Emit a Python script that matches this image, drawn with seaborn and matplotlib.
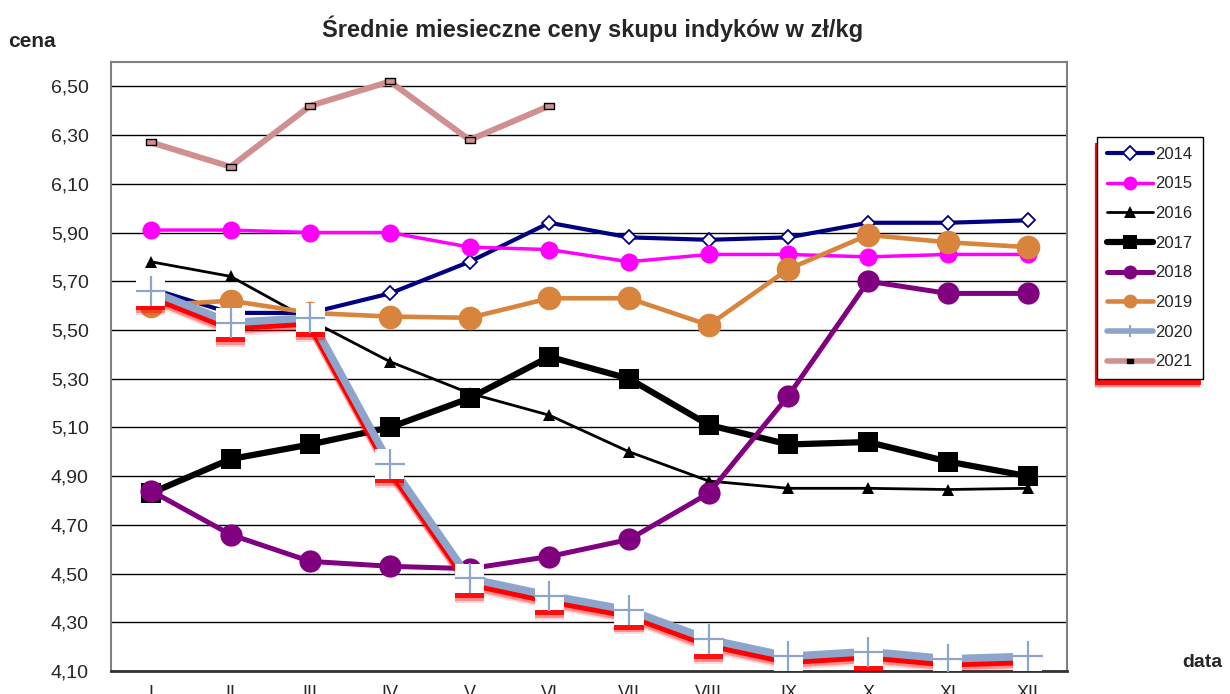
import numpy as np
import pandas as pd
import matplotlib
matplotlib.use("Agg")
import matplotlib.pyplot as plt
import matplotlib.patheffects as pe
from matplotlib.lines import Line2D
from matplotlib.path import Path
from matplotlib.patches import Rectangle
import seaborn as sns

months = ["I", "II", "III", "IV", "V", "VI", "VII", "VIII", "IX", "X", "XI", "XII"]
y2014 = [5.67, 5.57, 5.57, 5.65, 5.78, 5.94, 5.88, 5.87, 5.88, 5.94, 5.94, 5.95]
y2015 = [5.91, 5.91, 5.90, 5.90, 5.84, 5.83, 5.78, 5.81, 5.81, 5.80, 5.81, 5.81]
y2016 = [5.78, 5.72, 5.54, 5.37, 5.24, 5.15, 5.00, 4.88, 4.85, 4.85, 4.845, 4.85]
y2017 = [4.83, 4.97, 5.03, 5.10, 5.22, 5.39, 5.30, 5.11, 5.03, 5.04, 4.96, 4.90]
y2018 = [4.84, 4.66, 4.55, 4.53, 4.52, 4.57, 4.64, 4.83, 5.23, 5.70, 5.65, 5.65]
y2019 = [5.60, 5.62, 5.57, 5.555, 5.55, 5.63, 5.63, 5.52, 5.75, 5.89, 5.86, 5.84]
y2020 = [5.66, 5.53, 5.55, 4.95, 4.48, 4.41, 4.35, 4.23, 4.16, 4.18, 4.15, 4.16]
y2021 = [6.27, 6.17, 6.42, 6.52, 6.28, 6.42]
yticks = [4.10, 4.30, 4.50, 4.70, 4.90, 5.10, 5.30, 5.50, 5.70, 5.90, 6.10, 6.30, 6.50]
ytick_labels = ["4,10", "4,30", "4,50", "4,70", "4,90", "5,10", "5,30", "5,50",
                "5,70", "5,90", "6,10", "6,30", "6,50"]
title = "Średnie miesieczne ceny skupu indyków w zł/kg"

sns.set_theme(style="white")
plt.rcParams["font.family"] = ["Liberation Sans", "DejaVu Sans"]

fig = plt.figure(figsize=(12.3, 6.94), dpi=100)
ax = fig.add_axes([0.0902, 0.0331, 0.7776, 0.8776])

x = np.arange(12)
rect = Path([(-1, -0.55), (1, -0.55), (1, 0.55), (-1, 0.55), (-1, -0.55)],
            [Path.MOVETO, Path.LINETO, Path.LINETO, Path.LINETO, Path.CLOSEPOLY])

styles = {
    "2014": dict(color="#000080", lw=3.0, marker="D", ms=7.5, mfc="white", mec="#000080", mew=1.3),
    "2015": dict(color="#FF00FF", lw=2.5, marker="o", ms=13, mfc="#FF00FF", mec="#FF00FF", mew=0),
    "2016": dict(color="black", lw=2.0, marker="^", ms=9, mfc="black", mec="black", mew=0),
    "2017": dict(color="black", lw=4.5, marker="s", ms=14, mfc="black", mec="black", mew=0),
    "2018": dict(color="#800080", lw=3.6, marker="o", ms=16, mfc="#800080", mec="#800080", mew=0),
    "2019": dict(color="#D9843C", lw=3.3, marker="o", ms=17, mfc="#D9843C", mec="#D9843C", mew=0),
}
series = [("2014", y2014), ("2015", y2015), ("2016", y2016), ("2017", y2017),
          ("2018", y2018), ("2019", y2019)]
for name, vals in series:
    st = styles[name]
    sns.lineplot(x=x[:len(vals)], y=vals, ax=ax, color=st["color"], linewidth=st["lw"],
                 marker=st["marker"], markersize=st["ms"], markerfacecolor=st["mfc"],
                 markeredgecolor=st["mec"], markeredgewidth=st["mew"], zorder=3)

# 2020 with soft red shadow
c2020 = "#8EA5CB"
line_shadow = [pe.SimpleLineShadow(offset=(0, -7), shadow_color="red", alpha=0.15),
               pe.SimpleLineShadow(offset=(-0.5, -5.5), shadow_color="red", alpha=0.35),
               pe.SimpleLineShadow(offset=(-0.5, -3.5), shadow_color="red", alpha=1.0),
               pe.Normal()]
sns.lineplot(x=x, y=y2020, ax=ax, color=c2020, linewidth=5.5, zorder=4,
             path_effects=line_shadow)
mark_shadow = [pe.SimplePatchShadow(offset=(0, -7), shadow_rgbFace="red", alpha=0.15),
               pe.SimplePatchShadow(offset=(0, -5.5), shadow_rgbFace="red", alpha=0.35),
               pe.SimplePatchShadow(offset=(0, -3.5), shadow_rgbFace="red", alpha=0.9),
               pe.Normal()]
ax.plot(x, y2020, linestyle="none", marker="s", markersize=21, markerfacecolor="white",
        markeredgecolor="white", markeredgewidth=0, zorder=5, path_effects=mark_shadow)
ax.plot(x, y2020, linestyle="none", marker="+", markersize=21, markeredgecolor=c2020,
        markeredgewidth=1.6, zorder=6)

# 2021
sns.lineplot(x=x[:len(y2021)], y=y2021, ax=ax, color="#D09090", linewidth=4.3, zorder=7,
             marker=rect, markersize=7, markerfacecolor="#D09090", markeredgecolor="black",
             markeredgewidth=1.0)

ax.set_xlim(-0.5, 11.5)
ax.set_ylim(4.10, 6.60)
ax.set_yticks(yticks)
ax.set_yticklabels(ytick_labels)
ax.set_xticks(np.arange(-0.5, 12, 1.0))
ax.set_xticklabels([])
ax.set_xticks(x, minor=True)
ax.set_xticklabels(months, minor=True)
ax.tick_params(axis="x", which="major", length=5, width=1, color="#555555", direction="out")
ax.tick_params(axis="x", which="minor", length=0, pad=10, labelsize=13)
ax.tick_params(axis="y", length=7, width=1, color="black", direction="out", pad=9, labelsize=14)
ax.set_xlabel("")
ax.set_ylabel("")
ax.grid(axis="y", color="black", linewidth=1.0)
ax.grid(axis="x", visible=False)
ax.set_axisbelow(True)
for side, sp in ax.spines.items():
    sp.set_visible(True)
    sp.set_color("#808080")
    sp.set_linewidth(1.5)
ax.spines["bottom"].set_color("#333333")
ax.spines["bottom"].set_linewidth(2)

# legend
handles = []
labels = ["2014", "2015", "2016", "2017", "2018", "2019", "2020", "2021"]
for name in labels[:6]:
    st = styles[name]
    handles.append(Line2D([], [], color=st["color"], lw=st["lw"], marker=st["marker"],
                          ms=min(st["ms"], 10) if name != "2016" else 8, mfc=st["mfc"],
                          mec=st["mec"], mew=st["mew"]))
handles.append(Line2D([], [], color=c2020, lw=4, marker="+", ms=9, mec=c2020, mew=1.5))
handles.append(Line2D([], [], color="#D09090", lw=4, marker=rect, ms=5, mfc="black",
                      mec="black"))
leg = ax.legend(handles, labels, loc="upper left", bbox_to_anchor=(0.892, 0.803),
                bbox_transform=fig.transFigure, borderaxespad=0, frameon=True,
                fancybox=False, edgecolor="black", fontsize=12, handlelength=2.75,
                handletextpad=0.15, labelspacing=0.88, borderpad=0.6, framealpha=1)
leg.get_frame().set_linewidth(1.0)

fig.text(0.4817, 0.958, title, ha="center", va="center", fontsize=17, fontweight="bold")
fig.text(0.0065, 0.940, "cena", ha="left", va="center", fontsize=15, fontweight="bold")
fig.text(0.9615, 0.045, "data", ha="left", va="center", fontsize=14, fontweight="bold")

# soft red shadow behind legend (down-left)
fig.canvas.draw()
bb = leg.get_window_extent().transformed(fig.transFigure.inverted())
W, H = fig.bbox.width, fig.bbox.height
for dx, dy, a in [(-3, -9, 0.15), (-2.5, -7.5, 0.35), (-2, -6, 0.9)]:
    fig.patches.append(Rectangle((bb.x0 + dx / W, bb.y0 + dy / H), bb.width, bb.height,
                                 transform=fig.transFigure, facecolor="red", edgecolor="none",
                                 alpha=a, zorder=-1))

fig.savefig("out.png", dpi=100)
